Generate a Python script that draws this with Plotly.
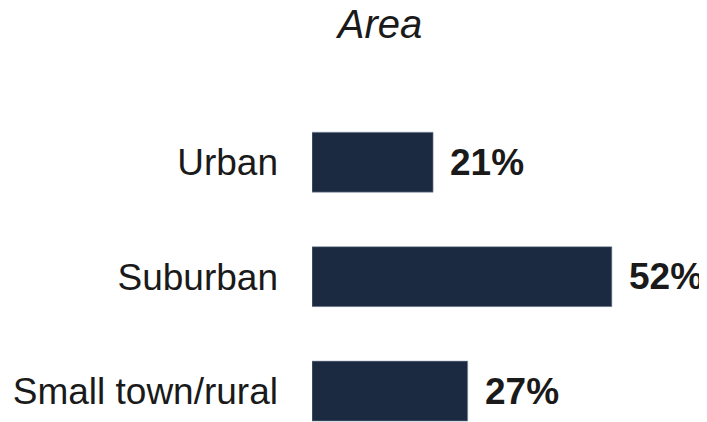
import plotly.graph_objects as go

categories = ["Urban", "Suburban", "Small town/rural"]
values = [21, 52, 27]
title_text = "Area"

NAVY, INK = "#1b2a40", "#1a1a1a"
FONT = "Liberation Sans, Arial, sans-serif"

# page body keeps an 8px margin, so the figure is sized 8px short each way
W, H = 699, 414

fig = go.Figure(go.Bar(
    x=values, y=categories, orientation="h",
    marker=dict(color=NAVY, line=dict(width=0.6, color="#8a97a8")),
    width=0.524, hoverinfo="skip"))

# value labels just right of each bar end
for cat, v in zip(categories, values):
    fig.add_annotation(x=v, y=cat, text=f"<b>{v}%</b>", showarrow=False,
                       xanchor="left", yanchor="middle", xshift=15,
                       font=dict(size=37, color=INK, family=FONT))

fig.update_layout(
    width=W, height=H,
    paper_bgcolor="white", plot_bgcolor="white",
    font=dict(family=FONT, color=INK),
    margin=dict(l=304, r=49, t=97, b=0),
    showlegend=False,
    title=dict(text=f"<i>{title_text}</i>", x=372 / W, xanchor="center",
               y=1 - 16 / H, yanchor="middle", yref="container",
               font=dict(size=40, color=INK, family=FONT)),
    xaxis=dict(visible=False, range=[0, 60]),
    yaxis=dict(range=[2.27, -0.5], showgrid=False, zeroline=False, showline=False,
               ticks="", ticklabelstandoff=33,
               tickfont=dict(size=37, color=INK, family=FONT)),
)

fig.write_html("out.html")
